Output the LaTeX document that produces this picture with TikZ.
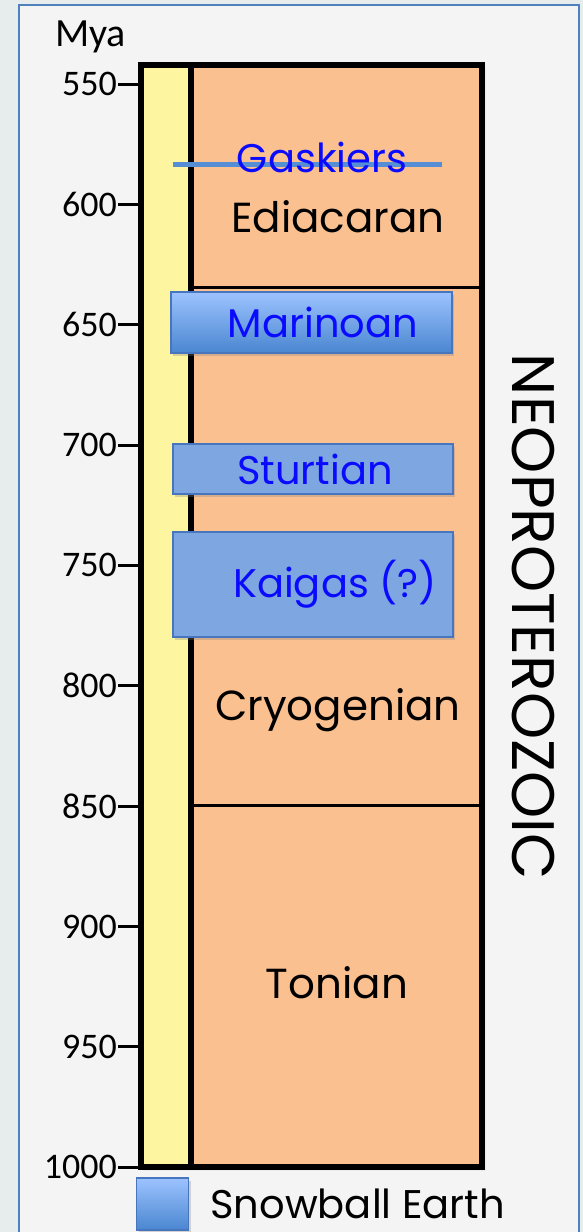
\documentclass[tikz,border=0pt]{standalone}
\usepackage{fontspec}
\newfontfamily\comicfont{Poppins}
\newfontfamily\calfont{Carlito}
\usepackage{tikz}
\usetikzlibrary{positioning,shadows}
\definecolor{pagebg}{RGB}{231,237,236}
\definecolor{panelbg}{RGB}{244,244,244}
\definecolor{panelrule}{RGB}{79,129,189}
\definecolor{stripyellow}{RGB}{254,245,160}
\definecolor{eraorange}{RGB}{250,192,144}
\definecolor{snowfill}{RGB}{126,166,224}
\definecolor{snowtop}{RGB}{157,195,255}
\definecolor{snowbot}{RGB}{74,134,208}
\definecolor{snowedge}{RGB}{72,118,190}
\definecolor{evtblue}{RGB}{10,10,255}
\definecolor{gaskblue}{RGB}{85,142,213}

\begin{document}
\begin{tikzpicture}[x=1pt, y=-1pt,
  every node/.style={inner sep=0pt},
  ticklab/.style={font=\calfont\fontsize{36}{40}\selectfont},
  era/.style={font=\comicfont\fontsize{42}{48}\selectfont},
  event/.style={font=\comicfont\fontsize{40}{44}\selectfont, text=evtblue},
  snow/.style={draw=snowedge, line width=1.5pt, fill=snowfill,
               drop shadow={opacity=0.3, shadow xshift=2pt, shadow yshift=-3pt}},
  snowgrad/.style={snow, top color=snowtop, bottom color=snowbot}
]
  % page and panel
  \useasboundingbox (0,0) rectangle (583,1232);
  \fill[pagebg] (0,0) rectangle (583,1232);
  \begin{scope}
    \clip (0,0) rectangle (583,1232);
    \draw[panelrule, line width=2pt, fill=panelbg] (19,5) rectangle (579,1250);
  \end{scope}

  % time column
  \fill[black!8] (143,67) rectangle (486,1171);
  \fill[stripyellow] (141,65) rectangle (191,1167);
  \fill[eraorange] (191,65) rectangle (482,1167);
  \draw[line width=3pt] (191,287) -- (482,287);
  \draw[line width=3pt] (191,805) -- (482,805);
  \draw[line width=6pt] (191,65) -- (191,1167);
  \draw[line width=6pt] (141,65) rectangle (482,1167);

  % age scale
  \foreach \i in {0,...,9}{
    \pgfmathsetmacro\ty{84+120.35*\i}
    \pgfmathtruncatemacro\myr{550+50*\i}
    \coordinate (tk\i) at (118,\ty);
    \draw[line width=3pt] (tk\i) -- (141,\ty);
    \node[ticklab, left=1pt of tk\i] (lab\i) {\myr};
  }
  \node[ticklab, font=\calfont\fontsize{40}{44}\selectfont, anchor=base west] (mya) at (55,46) {Mya};

  % periods
  \node[era, anchor=base] (ediacaran) at (338,232) {Ediacaran};
  \node[era, anchor=base] (cryogenian) at (338,720) {Cryogenian};
  \node[era, anchor=base] (tonian) at (337,998) {Tonian};
  \node[era, font=\comicfont\fontsize{60}{64}\selectfont, rotate=-90] (neo) at (533.5,617) {NEOPROTEROZOIC};

  % glaciations
  \coordinate (gask-w) at (173,164);
  \coordinate (gask-e) at (442,164);
  \draw[gaskblue, line width=5pt, drop shadow={opacity=0.25, shadow xshift=1pt, shadow yshift=-2pt}] (gask-w) -- (gask-e);
  \node[event, anchor=base] (gaskiers) at (322,172) {Gaskiers};
  \node[snowgrad, minimum width=281pt, minimum height=61pt, event] (marinoan) at (311.5,322.5) {\hspace*{23pt}Marinoan};
  \node[snow, minimum width=280pt, minimum height=50pt, event] (sturtian) at (313,469) {\hspace*{4pt}Sturtian};
  \node[snow, minimum width=280pt, minimum height=105pt, event] (kaigas) at (313,584.5) {\hspace*{44pt}Kaigas (?)};

  % legend
  \node[snowgrad, minimum width=52pt, minimum height=52pt] (legend) at (162.5,1204) {};
  \node[era, font=\comicfont\fontsize{40}{44}\selectfont, right=21pt of legend] (legtext) {Snowball Earth};
\end{tikzpicture}
\end{document}
